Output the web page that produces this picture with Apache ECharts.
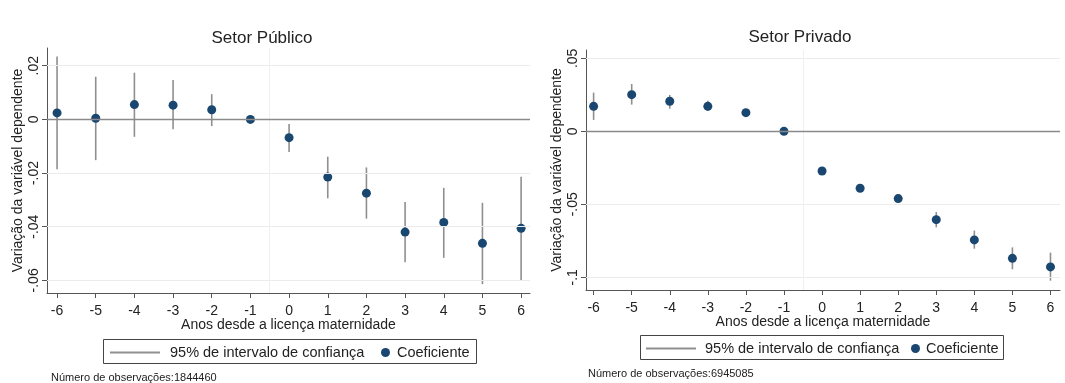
<!DOCTYPE html>
<html>
<head>
<meta charset="utf-8">
<script src="https://cdn.jsdelivr.net/npm/echarts@6/dist/echarts.min.js"></script>
<style>
html,body{margin:0;padding:0;background:#fff;}
#chart{width:1065px;height:383px;}
</style>
</head>
<body>
<div id="chart"></div>
<script>
// ---- data ----
const years = [-6, -5, -4, -3, -2, -1, 0, 1, 2, 3, 4, 5, 6];
const xTicks = [-6, -5, -4, -3, -2, -1, 0, 1, 2, 3, 4, 5, 6];

const pubCoef = [0.0024, 0.0004, 0.0055, 0.0053, 0.0036, 0, -0.0068, -0.0215, -0.0275, -0.0420, -0.0384, -0.0462, -0.0406];
const pubLow  = [-0.0186, -0.0152, -0.0065, -0.0037, -0.0025, null, -0.0122, -0.0294, -0.0370, -0.0532, -0.0516, -0.0614, -0.0599];
const pubHigh = [0.0234, 0.0159, 0.0174, 0.0147, 0.0094, null, -0.0017, -0.0139, -0.0179, -0.0308, -0.0255, -0.0311, -0.0214];

const privCoef = [0.0171, 0.0251, 0.0206, 0.0171, 0.0128, 0, -0.0272, -0.0390, -0.0461, -0.0605, -0.0744, -0.0870, -0.0929];
const privLow  = [0.0078, 0.0183, 0.0155, 0.0139, 0.0110, null, -0.0290, -0.0413, -0.0489, -0.0658, -0.0804, -0.0945, -0.1023];
const privHigh = [0.0265, 0.0324, 0.0249, 0.0210, 0.0146, null, -0.0253, -0.0370, -0.0434, -0.0553, -0.0680, -0.0795, -0.0831];

const pubYTicks = [-0.06, -0.04, -0.02, 0, 0.02];
const pubYTickLabels = ['-.06', '-.04', '-.02', '0', '.02'];
const privYTicks = [-0.1, -0.05, 0, 0.05];
const privYTickLabels = ['-.1', '-.05', '0', '.05'];

const titles = ['Setor Público', 'Setor Privado'];
const xName = 'Anos desde a licença maternidade';
const yName = 'Variação da variável dependente';
const ciName = '95% de intervalo de confiança';
const coefName = 'Coeficiente';
const notes = ['Número de observações:1844460', 'Número de observações:6945085'];

// ---- styles ----
const FONT = '"Liberation Sans", Arial, sans-serif';
const NAVY = '#1a476f';
const CI_GREY = '#8f8f8f';
const AXIS = '#555';
const TXT = '#222';

function fmt(ticks, labels) {
  return function (v) {
    for (let i = 0; i < ticks.length; i++) if (Math.abs(ticks[i] - v) < 1e-9) return labels[i];
    return '';
  };
}

function makeXAxis(idx, min, max) {
  return {
    gridIndex: idx, type: 'value', min: min, max: max, position: 'bottom',
    name: xName, nameLocation: 'middle', nameGap: 25, nameMoveOverlap: false,
    nameTextStyle: {fontFamily: FONT, fontSize: 14, color: TXT},
    axisLine: {show: true, onZero: false, lineStyle: {color: AXIS, width: 1}},
    axisTick: {show: true, length: 5, customValues: xTicks, lineStyle: {color: AXIS}},
    axisLabel: {customValues: xTicks, margin: 11, fontFamily: FONT, fontSize: 14, color: TXT,
      formatter: v => String(Math.round(v))},
    splitLine: {show: false}
  };
}
function makeYAxis(idx, min, max, ticks, labels) {
  return {
    gridIndex: idx, type: 'value', min: min, max: max, position: 'left',
    name: yName, nameLocation: 'middle', nameGap: 22, nameMoveOverlap: false,
    nameTextStyle: {fontFamily: FONT, fontSize: 14, color: TXT},
    axisLine: {show: true, onZero: false, lineStyle: {color: AXIS, width: 1}},
    axisTick: {show: true, length: 5, customValues: ticks, lineStyle: {color: AXIS}},
    axisLabel: {customValues: ticks, rotate: 90, margin: 6, fontFamily: FONT, fontSize: 14, color: TXT,
      formatter: fmt(ticks, labels)},
    splitLine: {show: false}
  };
}

function ciData(lo, hi) {
  const out = [];
  for (let i = 0; i < years.length; i++) {
    if (lo[i] !== null && hi[i] !== null) out.push([years[i], lo[i], hi[i]]);
  }
  return out;
}
function ptData(c) { return years.map((y, i) => [y, c[i]]); }

function renderCI(params, api) {
  const p1 = api.coord([api.value(0), api.value(1)]);
  const p2 = api.coord([api.value(0), api.value(2)]);
  return {type: 'line', shape: {x1: p1[0], y1: p1[1], x2: p2[0], y2: p2[1]},
    style: {stroke: CI_GREY, lineWidth: 1.6}};
}

function refSeries(idx, ticks) {
  const d = ticks.filter(t => t !== 0).map(t => ({yAxis: t, lineStyle: {color: '#ececec', width: 1, type: 'solid'}}));
  d.push({xAxis: -0.5, lineStyle: {color: '#f0f0f0', width: 1, type: 'solid'}});
  d.push({yAxis: 0, lineStyle: {color: '#8a8a8a', width: 1.4, type: 'solid'}});
  return {
    type: 'line', xAxisIndex: idx, yAxisIndex: idx, data: [], z: 1, silent: true,
    markLine: {silent: true, symbol: 'none', label: {show: false}, animation: false, data: d}
  };
}

function legendBlock(left, top, name, isLine, pad) {
  return {
    left: left, top: top, padding: 0, itemGap: 0, selectedMode: false,
    itemWidth: isLine ? 50 : 9, itemHeight: isLine ? 2 : 9,
    textStyle: {fontFamily: FONT, fontSize: 14.5, color: TXT, padding: [0, 0, 0, pad]},
    data: [isLine
      ? {name: name, icon: 'path://M0,0H50V2H0Z', itemStyle: {color: CI_GREY}}
      : {name: name, icon: 'circle', itemStyle: {color: NAVY}}]
  };
}

const option = {
  backgroundColor: '#fff',
  animation: false,
  title: [
    {text: titles[0], left: 257, top: 25, textAlign: 'center',
      textStyle: {fontFamily: FONT, fontSize: 17, fontWeight: 'normal', color: TXT}},
    {text: titles[1], left: 795, top: 24, textAlign: 'center',
      textStyle: {fontFamily: FONT, fontSize: 17, fontWeight: 'normal', color: TXT}}
  ],
  grid: [
    {left: 47, top: 48, width: 483, height: 245, containLabel: false},
    {left: 586, top: 50, width: 474, height: 240, containLabel: false}
  ],
  xAxis: [makeXAxis(0, -6.26, 6.23), makeXAxis(1, -6.2, 6.25)],
  yAxis: [
    makeYAxis(0, -0.0647, 0.0266, pubYTicks, pubYTickLabels),
    makeYAxis(1, -0.1087, 0.0557, privYTicks, privYTickLabels)
  ],
  legend: [
    legendBlock(110, 345, ciName, true, 5),
    legendBlock(381, 345, coefName, false, 2),
    legendBlock(646, 341, ciName, true, 4),
    legendBlock(911, 341, coefName, false, 1)
  ],
  graphic: [
    {type: 'rect', shape: {x: 103.5, y: 339.5, width: 373, height: 24}, style: {fill: 'none', stroke: '#444', lineWidth: 1}},
    {type: 'rect', shape: {x: 640.5, y: 335.5, width: 363, height: 24}, style: {fill: 'none', stroke: '#444', lineWidth: 1}},
    {type: 'text', left: 51, top: 372, style: {text: notes[0], font: '11px ' + FONT, fill: TXT}},
    {type: 'text', left: 588, top: 368, style: {text: notes[1], font: '11px ' + FONT, fill: TXT}}
  ],
  series: [
    refSeries(0, pubYTicks),
    refSeries(1, privYTicks),
    {name: ciName, type: 'custom', xAxisIndex: 0, yAxisIndex: 0, z: 2, itemStyle: {color: CI_GREY},
      renderItem: renderCI, encode: {x: 0, y: [1, 2]}, data: ciData(pubLow, pubHigh)},
    {name: ciName, type: 'custom', xAxisIndex: 1, yAxisIndex: 1, z: 2, itemStyle: {color: CI_GREY},
      renderItem: renderCI, encode: {x: 0, y: [1, 2]}, data: ciData(privLow, privHigh)},
    {name: coefName, type: 'scatter', xAxisIndex: 0, yAxisIndex: 0, z: 3, symbolSize: 9,
      itemStyle: {color: NAVY, opacity: 1}, data: ptData(pubCoef)},
    {name: coefName, type: 'scatter', xAxisIndex: 1, yAxisIndex: 1, z: 3, symbolSize: 9,
      itemStyle: {color: NAVY, opacity: 1}, data: ptData(privCoef)}
  ]
};

const chart = echarts.init(document.getElementById('chart'), null, {renderer: 'canvas'});
chart.setOption(option);
</script>
</body>
</html>
